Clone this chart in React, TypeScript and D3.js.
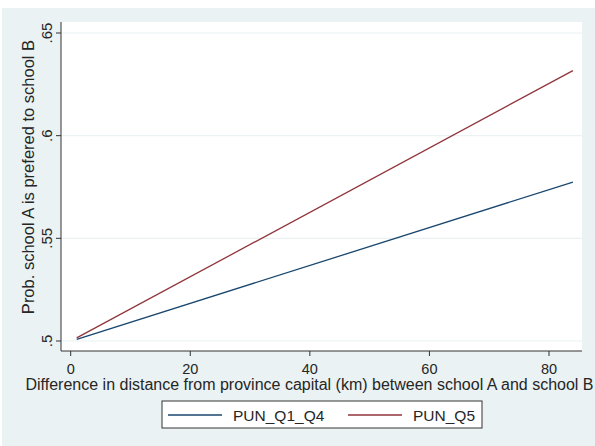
import React from "react";
import * as d3 from "d3";

const W = 595;
const H = 446;

const xTicks = [0, 20, 40, 60, 80];
const yTicks = [0.5, 0.55, 0.6, 0.65];
const seriesNames = ["PUN_Q1_Q4", "PUN_Q5"];
const seriesColors = ["#1a476f", "#90353b"];
const xValues = [1, 84];
const q1q4Values = [0.5008, 0.5774];
const q5Values = [0.5015, 0.6317];

const xTitle = "Difference in distance from province capital (km) between school A and school B";
const yTitle = "Prob. school A is prefered to school B";

export default function App() {
  const plot = { left: 61, right: 582, top: 22, bottom: 351 };
  const x = d3.scaleLinear().domain([0, 80]).range([70.7, 549]);
  const y = d3.scaleLinear().domain([0.5, 0.65]).range([341, 33]);
  const line = d3
    .line<[number, number]>()
    .x((d) => x(d[0]))
    .y((d) => y(d[1]));
  const series = [q1q4Values, q5Values].map((vals) =>
    xValues.map((xv, i) => [xv, vals[i]] as [number, number])
  );
  const fmtY = (v: number) => String(+v.toFixed(2)).replace(/^0/, "");
  const font = "'Liberation Sans', Arial, sans-serif";
  const textColor = "#262626";

  return (
    <svg
      width={W}
      height={H}
      style={{ position: "absolute", left: 0, top: 0 }}
      fontFamily={font}
    >
      <rect x={0} y={0} width={W} height={H} fill="#ffffff" />
      <rect x={2} y={8} width={W - 2} height={H - 8} fill="#eaf2f3" />
      <rect
        x={plot.left}
        y={plot.top}
        width={plot.right - plot.left}
        height={plot.bottom - plot.top}
        fill="#ffffff"
      />
      {yTicks.map((t) => (
        <line
          key={"g" + t}
          x1={plot.left}
          x2={plot.right}
          y1={y(t)}
          y2={y(t)}
          stroke="#eaf2f3"
          strokeWidth={1.2}
        />
      ))}
      {series.map((s, i) => (
        <path
          key={"s" + i}
          d={line(s) || ""}
          fill="none"
          stroke={seriesColors[i]}
          strokeWidth={1.3}
        />
      ))}
      <line x1={plot.left} x2={plot.left} y1={plot.top} y2={plot.bottom} stroke="#333" strokeWidth={1} />
      <line x1={plot.left} x2={plot.right} y1={plot.bottom} y2={plot.bottom} stroke="#333" strokeWidth={1} />
      {yTicks.map((t) => (
        <g key={"yt" + t}>
          <line x1={plot.left - 5} x2={plot.left} y1={y(t)} y2={y(t)} stroke="#333" />
          <text
            transform={`translate(${plot.left - 9},${y(t)}) rotate(-90)`}
            textAnchor="middle"
            fontSize={15}
            fill={textColor}
          >
            {fmtY(t)}
          </text>
        </g>
      ))}
      {xTicks.map((t) => (
        <g key={"xt" + t}>
          <line x1={x(t)} x2={x(t)} y1={plot.bottom} y2={plot.bottom + 5} stroke="#333" />
          <text x={x(t)} y={374} textAnchor="middle" fontSize={14.5} fill={textColor}>
            {t}
          </text>
        </g>
      ))}
      <text x={309.5} y={390} textAnchor="middle" fontSize={16} fill={textColor}>
        {xTitle}
      </text>
      <text
        transform={`translate(34,177) rotate(-90)`}
        textAnchor="middle"
        fontSize={16.5}
        fill={textColor}
      >
        {yTitle}
      </text>
      <rect x={162} y={401} width={320} height={27} fill="#ffffff" stroke="#333" strokeWidth={1} />
      {seriesNames.map((n, i) => {
        const x0 = i === 0 ? 168 : 348;
        return (
          <g key={"l" + i}>
            <line x1={x0} x2={x0 + 54} y1={415} y2={415} stroke={seriesColors[i]} strokeWidth={1.3} />
            <text x={x0 + 65} y={420.5} fontSize={15.5} fill={textColor}>
              {n}
            </text>
          </g>
        );
      })}
    </svg>
  );
}
